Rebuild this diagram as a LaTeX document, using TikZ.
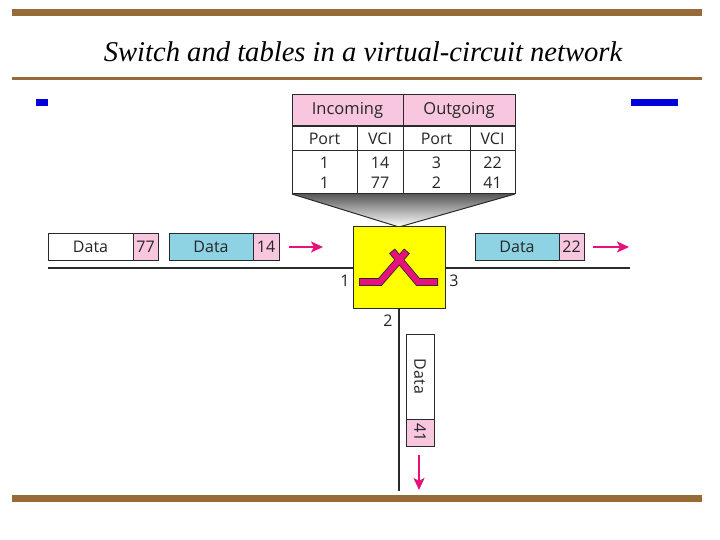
\documentclass[tikz,border=0pt]{standalone}
\usepackage{fontspec}
\setmainfont{Open Sans}
\newfontfamily\titlefont{Liberation Serif}
\usetikzlibrary{arrows.meta}
\definecolor{barbrown}{HTML}{966B38}
\definecolor{hdrpink}{HTML}{F9C6E0}
\definecolor{pktblue}{HTML}{8DD3E3}
\definecolor{magentaarrow}{HTML}{E6117A}
\definecolor{edgegray}{HTML}{2A2A2A}
\definecolor{swyellow}{HTML}{FFFF00}
\tikzset{
  x=1pt,y=-1pt,
  brownbar/.style={fill=barbrown,draw=none},
  bluemark/.style={fill=blue!85!black,draw=none},
  cell/.style={draw=edgegray,line width=1pt,inner sep=0,outer sep=0,text=black!85,font=\fontsize{16}{20}\selectfont,anchor=center},
  hcell/.style={cell,fill=hdrpink,font=\fontsize{16.5}{16.5}\selectfont},
  wire/.style={draw=edgegray,line width=2pt},
  flow/.style={draw=magentaarrow,line width=1.6pt,-{Stealth[length=12pt,width=11pt,inset=3pt]}},
  lbl/.style={text=black!85,inner sep=0,font=\fontsize{16}{16}\selectfont},
  numcell/.style={cell,fill=hdrpink},
  datacell/.style={cell,fill=white},
  bluecell/.style={cell,fill=pktblue},
}
\begin{document}
\begin{tikzpicture}
\useasboundingbox (0,0) rectangle (720,540);
\fill[white] (0,0) rectangle (720,540);
% bars
\fill[brownbar] (12,9) rectangle (702,16);
\fill[brownbar] (12,77) rectangle (702,80);
\fill[brownbar] (12,495) rectangle (702,502);
\fill[bluemark] (36,99) rectangle (48,106);
\fill[bluemark] (631,99) rectangle (678,106);
\node[inner sep=0] (title) at (363,52) {\titlefont\itshape\fontsize{28.6}{28.6}\selectfont Switch and tables in a virtual-circuit network};
% wires
\coordinate (wl) at (48,268);
\coordinate (wr) at (630,268);
\coordinate (wd) at (399,491);
\draw[wire] (wl) -- (wr);
% funnel
\coordinate (fa) at (292,194);
\coordinate (fb) at (515,194);
\coordinate (fc) at (399,227);
\shade[top color=black!65,bottom color=white] (fa) -- (fb) -- (fc) -- cycle;
\draw[edgegray,line width=1pt,line join=bevel] (fa) -- (fc) -- (fb);
% switch
\node[draw=edgegray,line width=1pt,fill=swyellow,minimum width=92pt,minimum height=81pt,inner sep=0,outer sep=0] (sw) at (399,267.5) {};
\draw[wire] (sw.south) -- (wd);
\draw[edgegray,line width=7.6pt,line join=miter] (359,282) -- (380,282) -- (407,251);
\draw[edgegray,line width=7.6pt,line join=miter] (438,282) -- (418,282) -- (392,251);
\draw[magentaarrow,line width=6pt,line join=miter] (359.8,282) -- (380,282) -- (406.4,251.7);
\draw[magentaarrow,line width=6pt,line join=miter] (437.2,282) -- (418,282) -- (392.6,251.7);
\node[lbl] (p1) at (345,281) {1};
\node[lbl] (p3) at (454,281) {3};
\node[lbl] (p2) at (388,321) {2};
% table
\node[hcell,minimum width=111pt,minimum height=32pt] (inc) at (347.5,110.5) {Incoming};
\node[hcell,minimum width=112pt,minimum height=32pt] (out) at (459,110.5) {Outgoing};
\node[cell,minimum width=65pt,minimum height=25pt] (pa) at (324.5,138.5) {Port};
\node[cell,minimum width=46pt,minimum height=25pt] (va) at (380,138.5) {VCI};
\node[cell,minimum width=67pt,minimum height=25pt] (pb) at (436.5,138.5) {Port};
\node[cell,minimum width=45pt,minimum height=25pt] (vb) at (492.5,138.5) {VCI};
\node[cell,minimum width=65pt,minimum height=43pt,align=center] (ra) at (324.5,172.5) {1\\1};
\node[cell,minimum width=46pt,minimum height=43pt,align=center] (rb) at (380,172.5) {14\\77};
\node[cell,minimum width=67pt,minimum height=43pt,align=center] (rc) at (436.5,172.5) {3\\2};
\node[cell,minimum width=45pt,minimum height=43pt,align=center] (rd) at (492.5,172.5) {22\\41};
% left packets
\node[datacell,minimum width=85pt,minimum height=27pt] (d77) at (90.5,246.5) {Data};
\node[numcell,minimum width=25pt,minimum height=27pt] (n77) at (145.5,246.5) {77};
\node[bluecell,minimum width=84pt,minimum height=27pt] (d14) at (211,246.5) {Data};
\node[numcell,minimum width=26pt,minimum height=27pt] (n14) at (266,246.5) {14};
\coordinate (a1s) at (289,247);
\coordinate (a1e) at (323,247);
\draw[flow] (a1s) -- (a1e);
% right packet
\node[bluecell,minimum width=84pt,minimum height=27pt] (d22) at (517,246.5) {Data};
\node[numcell,minimum width=25pt,minimum height=27pt] (n22) at (571.5,246.5) {22};
\coordinate (a2s) at (593,247);
\coordinate (a2e) at (629,247);
\draw[flow] (a2s) -- (a2e);
% down packet
\node[datacell,minimum width=28pt,minimum height=85pt] (d41) at (420,376.5) {\rotatebox{-90}{Data}};
\node[numcell,minimum width=28pt,minimum height=27pt] (n41) at (420,432.5) {\rotatebox{-90}{41}};
\coordinate (a3s) at (419,455);
\coordinate (a3e) at (419,490);
\draw[flow] (a3s) -- (a3e);
\end{tikzpicture}
\end{document}
